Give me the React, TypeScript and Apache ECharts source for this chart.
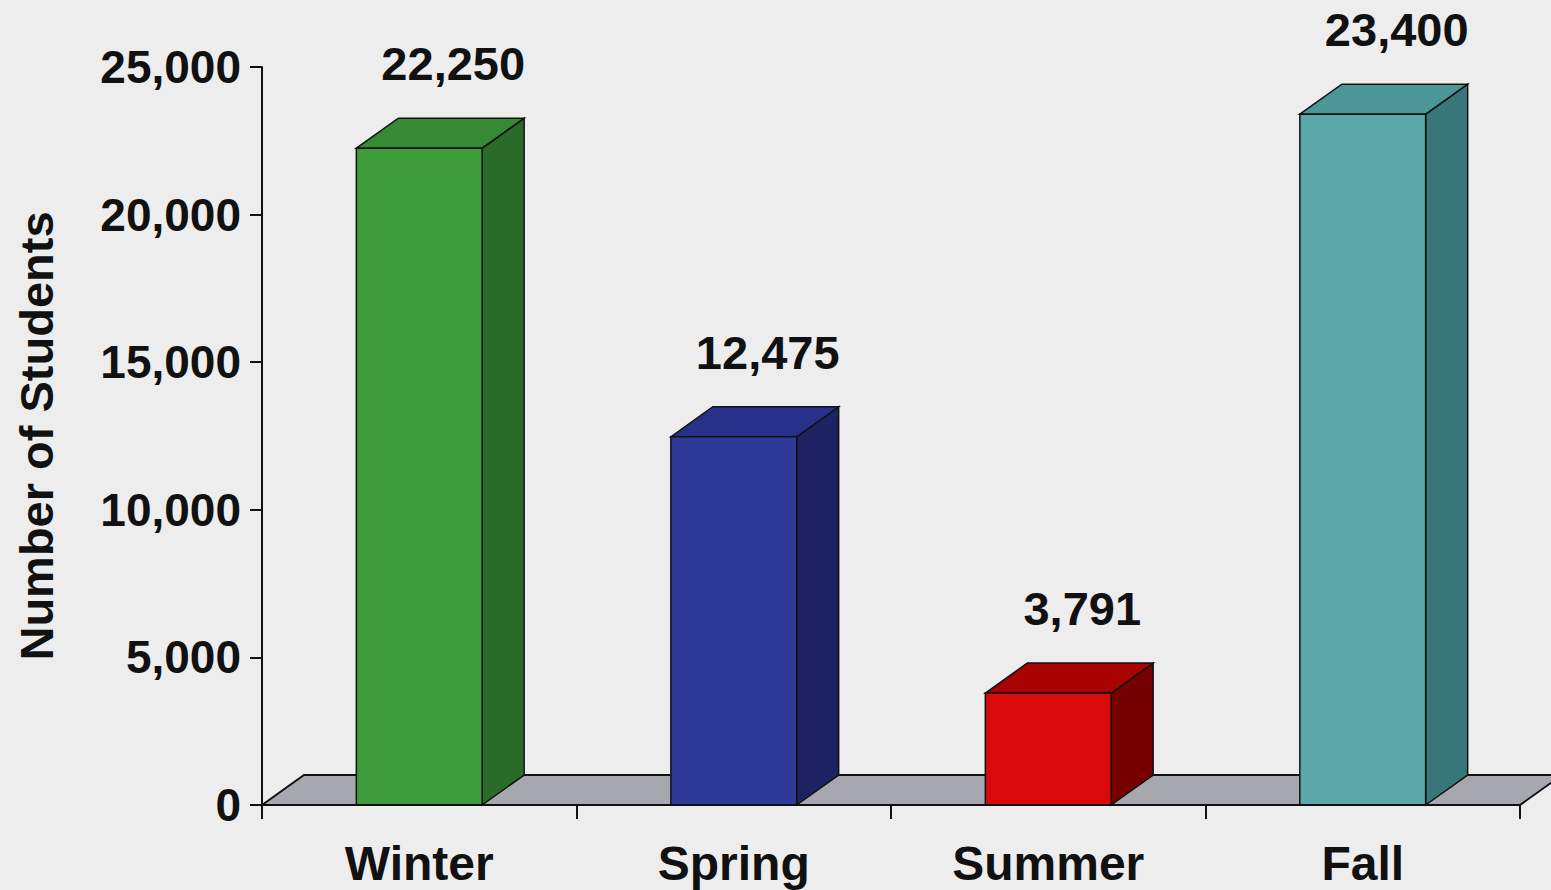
import React, { useEffect, useRef } from "react";
import * as echarts from "echarts";

const categories = ["Winter", "Spring", "Summer", "Fall"];
const students = [22250, 12475, 3791, 23400];
const yTicks = { min: 0, max: 25000, interval: 5000 };
const frontColors = ["#3e9b3b", "#2f3a98", "#d90a0a", "#5ba7a9"];
const topColors = ["#368a34", "#27318a", "#a80202", "#4b9798"];
const sideColors = ["#2b6b2a", "#1c2262", "#760000", "#377679"];

const DX = 42;
const DY = 30;
const FONT = "'Liberation Sans', Arial, Helvetica, sans-serif";

export default function App() {
  const ref = useRef<HTMLDivElement>(null);
  useEffect(() => {
    if (!ref.current) return;
    const chart = echarts.init(ref.current, null, { renderer: "svg" });
    const barData = categories.map((c, i) => [i, students[i]]);
    chart.setOption({
      animation: false,
      backgroundColor: "#ededed",
      grid: { left: 262, right: 31, top: 67, bottom: 85 },
      xAxis: {
        type: "category",
        data: categories,
        boundaryGap: true,
        axisLine: { lineStyle: { color: "#111", width: 2 } },
        axisTick: { show: true, length: 14, lineStyle: { color: "#111", width: 2 } },
        axisLabel: {
          color: "#111",
          fontSize: 48,
          fontWeight: "bold",
          fontFamily: FONT,
          margin: 34,
        },
        z: 10,
      },
      yAxis: {
        type: "value",
        min: yTicks.min,
        max: yTicks.max,
        interval: yTicks.interval,
        name: "Number of Students",
        nameLocation: "middle",
        nameGap: 202,
        nameTextStyle: { color: "#111", fontSize: 47, fontWeight: "bold", fontFamily: FONT },
        axisLine: { show: true, lineStyle: { color: "#111", width: 2 } },
        axisTick: { show: true, length: 12, lineStyle: { color: "#111", width: 2 } },
        splitLine: { show: false },
        axisLabel: {
          color: "#111",
          fontSize: 46,
          fontWeight: "bold",
          fontFamily: FONT,
          margin: 21,
          formatter: (v: number) => v.toLocaleString("en-US"),
        },
      },
      series: [
        {
          type: "custom",
          z: 1,
          data: [[0]],
          renderItem: (params: any, api: any) => {
            const cs = params.coordSys;
            const y0 = cs.y + cs.height;
            const x0 = cs.x;
            const x1 = cs.x + cs.width;
            return {
              type: "polygon",
              shape: {
                points: [
                  [x0, y0],
                  [x0 + DX, y0 - DY],
                  [x1 + DX, y0 - DY],
                  [x1, y0],
                ],
              },
              style: { fill: "#a7a7af", stroke: "#111", lineWidth: 2 },
            };
          },
        },
        {
          type: "custom",
          z: 2,
          data: barData,
          renderItem: (params: any, api: any) => {
            const idx = params.dataIndex;
            const v = api.value(1);
            const top = api.coord([api.value(0), v]);
            const base = api.coord([api.value(0), 0]);
            const w = api.size([1, 0])[0] * 0.4;
            const xl = top[0] - w / 2;
            const xr = top[0] + w / 2;
            const yt = top[1];
            const yb = base[1];
            const edge = { stroke: "#111", lineWidth: 1.5 };
            return {
              type: "group",
              children: [
                {
                  type: "polygon",
                  shape: { points: [[xr, yb], [xr + DX, yb - DY], [xr + DX, yt - DY], [xr, yt]] },
                  style: { fill: sideColors[idx], ...edge },
                },
                {
                  type: "polygon",
                  shape: { points: [[xl, yt], [xl + DX, yt - DY], [xr + DX, yt - DY], [xr, yt]] },
                  style: { fill: topColors[idx], ...edge },
                },
                {
                  type: "rect",
                  shape: { x: xl, y: yt, width: w, height: yb - yt },
                  style: { fill: frontColors[idx], ...edge },
                },
                {
                  type: "text",
                  style: {
                    text: Number(v).toLocaleString("en-US"),
                    x: top[0] + DX / 2 + 13,
                    y: yt - DY - 31,
                    align: "center",
                    verticalAlign: "bottom",
                    fill: "#111",
                    fontSize: 47,
                    fontWeight: "bold",
                    fontFamily: FONT,
                  },
                },
              ],
            };
          },
        },
      ],
    });
    return () => chart.dispose();
  }, []);
  return <div ref={ref} style={{ width: 1551, height: 890, position: "absolute", left: 0, top: 0 }} />;
}
